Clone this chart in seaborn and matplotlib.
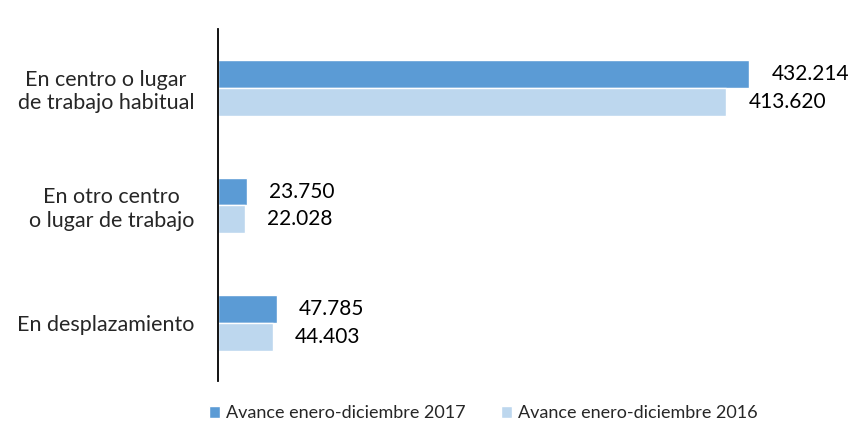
import pandas as pd
import matplotlib
matplotlib.use("Agg")
import matplotlib.pyplot as plt
import seaborn as sns

# Data
categories = ["En centro o lugar\nde trabajo habitual",
              "En otro centro\no lugar de trabajo",
              "En desplazamiento"]
series_names = ["Avance enero-diciembre 2017", "Avance enero-diciembre 2016"]
values_2017 = [432214, 23750, 47785]
values_2016 = [413620, 22028, 44403]
colors = ["#5B9BD5", "#BDD7EE"]

df = pd.DataFrame({
    "Categoria": categories * 2,
    "Serie": [series_names[0]] * 3 + [series_names[1]] * 3,
    "Valor": values_2017 + values_2016,
})

sns.set_style("white")
plt.rcParams["font.family"] = ["Lato", "DejaVu Sans"]

fig = plt.figure(figsize=(8.54, 4.26), dpi=100)
ax = fig.add_axes([0.2553, 0.1056, 0.7197, 0.8263])

sns.barplot(data=df, y="Categoria", x="Valor", hue="Serie", orient="h",
            palette=colors, width=0.475, saturation=1, ax=ax, legend=True)

for cont in ax.containers:
    vals = [int(b.get_width()) for b in cont]
    ax.bar_label(cont, labels=[f"{v:,}".replace(",", ".") for v in vals],
                 padding=16, fontsize=15, color="black")

ax.set_xlim(0, 500000)
ax.set_ylim(2.494, -0.502)
ax.set_xlabel("")
ax.set_ylabel("")
ax.set_xticks([])
ax.tick_params(axis="y", length=0, pad=17, labelsize=15.5, labelcolor="#262626")
for lab in ax.get_yticklabels():
    lab.set_multialignment("center")

for s in ["top", "right", "bottom"]:
    ax.spines[s].set_visible(False)
ax.spines["left"].set_color("black")
ax.spines["left"].set_linewidth(1.3)

handles, labels = ax.get_legend_handles_labels()
ax.legend_.remove()
fig.legend(handles, labels, loc="center", bbox_to_anchor=(0.566, 0.03), ncol=2,
           frameon=False, fontsize=13, handlelength=0.6, handleheight=0.6,
           handletextpad=0.3, columnspacing=2.0, labelcolor="#262626",
           borderpad=0)

fig.savefig("out.png", dpi=100)
